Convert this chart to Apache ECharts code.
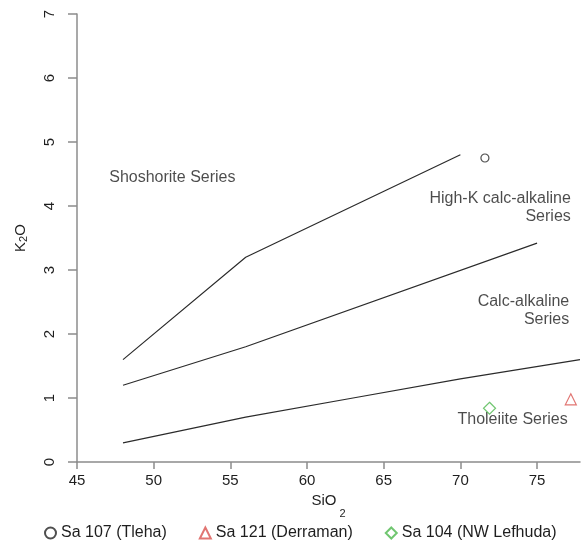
<!DOCTYPE html>
<html>
<head>
<meta charset="utf-8">
<title>K2O vs SiO2</title>
<script src="https://cdn.jsdelivr.net/npm/echarts@6/dist/echarts.min.js"></script>
<style>
  html, body { margin: 0; padding: 0; background: #fff; }
  #chart { width: 582px; height: 548px; }
</style>
</head>
<body>
<div id="chart"></div>
<script>
// Limites de séries (Peccerillo & Taylor)
const limiteShoshonite = [[48, 1.6], [56, 3.2], [70, 4.8]];
const limiteHautK = [[48, 1.2], [56, 1.8], [75, 3.42]];
const limiteTholeiite = [[48, 0.3], [56, 0.7], [63, 1.0], [70, 1.3], [77.8, 1.6]];

// Échantillons
const sa107 = [[71.6, 4.75]];
const sa121 = [[77.2, 0.98]];
const sa104 = [[71.9, 0.84]];

// Étiquettes des domaines : [SiO2, K2O, texte, alignement]
const etiquettes = [
    [47.1, 4.45, 'Shoshorite Series', 'left'],
    [77.2, 3.97, 'High-K calc-alkaline\nSeries', 'right'],
    [77.1, 2.36, 'Calc-alkaline\nSeries', 'right'],
    [77.0, 0.66, 'Tholeiite Series', 'right']
];

const chart = echarts.init(document.getElementById('chart'));

const couleurAxe = '#8c8c8c';
const couleurTexte = '#1e1e1e';

function ligneLimite(data) {
    return {
        type: 'line',
        data: data,
        showSymbol: false,
        silent: true,
        lineStyle: { color: '#2b2b2b', width: 1.2 },
        z: 2
    };
}

function echantillon(nom, symbole, taille, couleur, data) {
    return {
        name: nom,
        type: 'scatter',
        symbol: symbole,
        symbolSize: taille,
        data: data,
        itemStyle: { color: 'rgba(255,255,255,0)', borderColor: couleur, borderWidth: 1.2 },
        z: 3
    };
}

const option = {
    animation: false,
    backgroundColor: '#fff',
    textStyle: { fontFamily: 'Liberation Sans, Arial, sans-serif', color: couleurTexte },
    grid: { left: 77, right: 2, top: 14, bottom: 86 },
    xAxis: {
        type: 'value',
        min: 45,
        max: 77.8,
        interval: 5,
        name: '{a|SiO}{b|2}',
        nameLocation: 'middle',
        nameGap: 25,
        nameTextStyle: {
            rich: {
                a: { fontSize: 15, color: couleurTexte, verticalAlign: 'top', lineHeight: 16 },
                b: { fontSize: 11, color: couleurTexte, verticalAlign: 'top', padding: [16, 0, 0, 3] }
            }
        },
        axisLine: { show: true, lineStyle: { color: couleurAxe, width: 1.5 } },
        axisTick: { show: true, length: 7, lineStyle: { color: couleurAxe, width: 1.5 } },
        axisLabel: { fontSize: 15, color: couleurTexte, margin: 11, showMaxLabel: false },
        splitLine: { show: false }
    },
    yAxis: {
        type: 'value',
        min: 0,
        max: 7,
        interval: 1,
        name: '{a|K}{b|2}{a|O}',
        nameLocation: 'middle',
        nameRotate: 90,
        nameGap: 48,
        nameTextStyle: {
            rich: {
                a: { fontSize: 15, color: couleurTexte },
                b: { fontSize: 11, color: couleurTexte, padding: [6, 0, 0, 0] }
            }
        },
        axisLine: { show: true, lineStyle: { color: couleurAxe, width: 1.5 } },
        axisTick: { show: true, length: 9, lineStyle: { color: couleurAxe, width: 1.5 } },
        axisLabel: { fontSize: 15, color: couleurTexte, rotate: 90, margin: 20 },
        splitLine: { show: false }
    },
    legend: {
        data: ['Sa 107 (Tleha)', 'Sa 121 (Derraman)', 'Sa 104 (NW Lefhuda)'],
        left: 44,
        top: 525,
        padding: 0,
        itemWidth: 11,
        itemHeight: 11,
        itemGap: 32,
        textStyle: { fontSize: 16, color: couleurTexte }
    },
    series: [
        ligneLimite(limiteShoshonite),
        ligneLimite(limiteHautK),
        ligneLimite(limiteTholeiite),
        echantillon('Sa 107 (Tleha)', 'circle', 8, '#222', sa107),
        echantillon('Sa 121 (Derraman)', 'triangle', 11, '#d9534f', sa121),
        echantillon('Sa 104 (NW Lefhuda)', 'diamond', 12, '#4cb84c', sa104),
        {
            type: 'scatter',
            silent: true,
            symbolSize: 0,
            data: etiquettes.map(e => ({
                value: [e[0], e[1]],
                name: e[2],
                label: { align: e[3] }
            })),
            label: {
                show: true,
                position: 'inside',
                formatter: '{b}',
                fontSize: 16,
                lineHeight: 18,
                color: couleurTexte,
                verticalAlign: 'middle'
            },
            z: 1
        }
    ]
};

chart.setOption(option);
</script>
</body>
</html>
